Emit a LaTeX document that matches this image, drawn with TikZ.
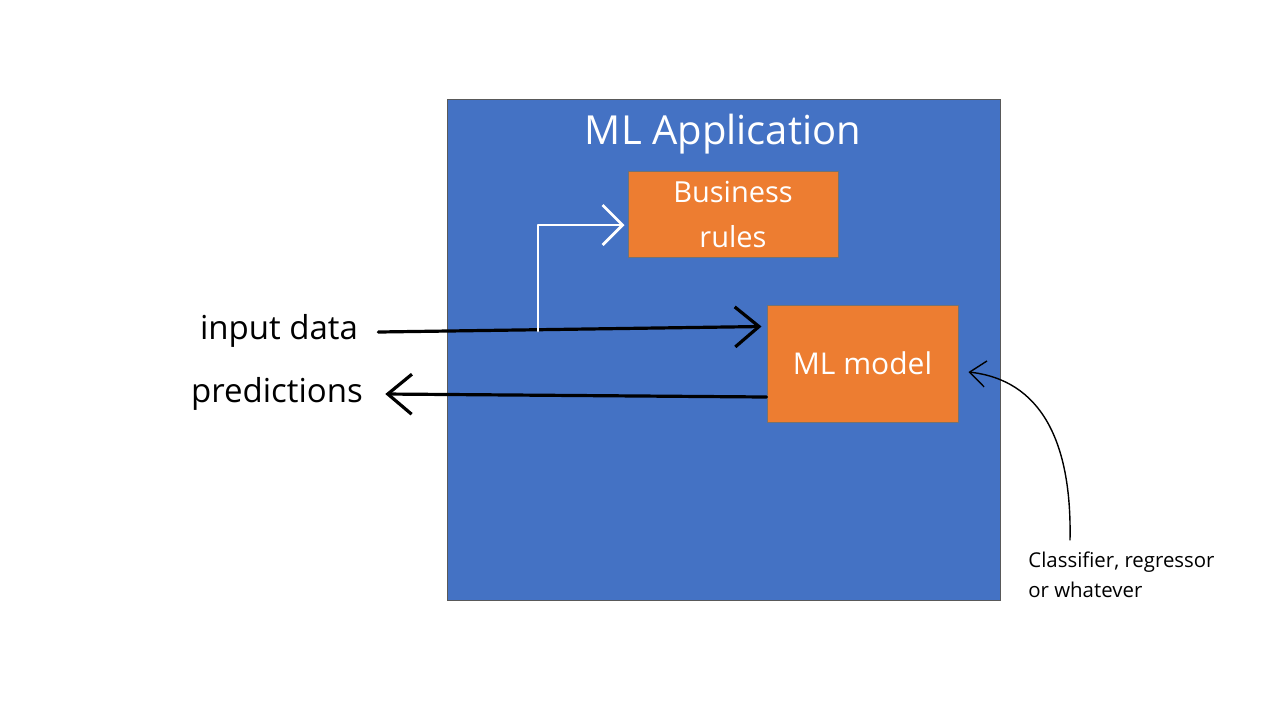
\documentclass[tikz,border=0pt]{standalone}
\usepackage{fontspec}
\setmainfont{Open Sans}
\usetikzlibrary{arrows.meta}
\definecolor{appblue}{HTML}{4472C4}
\definecolor{boxorange}{HTML}{ED7D31}
\begin{document}
\begin{tikzpicture}[x=0.5pt,y=-0.5pt,
  appbox/.style={draw=black!65, fill=appblue, line width=0.5pt, inner sep=0pt,
    minimum width=276.5pt, minimum height=250.5pt},
  orangebox/.style={draw=black!55, fill=boxorange, line width=0.5pt, inner sep=0pt,
    text=white, align=center},
  wtext/.style={text=white, inner sep=0pt},
  btext/.style={text=black, inner sep=1pt},
  bkarrow/.style={draw=black, line width=1.6pt, line cap=round,
    -{Straight Barb[length=12pt,width=20pt,line width=1.6pt]}},
  wharrow/.style={draw=white, line width=1.4pt, line cap=round, line join=round,
    -{Straight Barb[length=10pt,width=20pt,line width=1.4pt]}},
  thinarrow/.style={draw=black, line width=0.7pt, line cap=round,
    -{Straight Barb[length=8pt,width=13pt,line width=0.7pt]}}
]
\useasboundingbox (0,0) rectangle (1280,720);
\fill[white] (0,0) rectangle (1280,720);

\node[appbox] (app) at (723.5,349.5) {};
\node[wtext, font=\fontsize{20}{24}\selectfont] (title) at (723,134) {ML Application};

\node[orangebox, minimum width=105pt, minimum height=43pt,
  font=\fontsize{14.5}{22.5}\selectfont] (biz) at (733,214) {Business\\rules};
\node[orangebox, minimum width=95.5pt, minimum height=58.5pt,
  font=\fontsize{15}{18}\selectfont] (ml) at (862.5,363.5) {ML model};

\node[btext, font=\fontsize{16.5}{20}\selectfont] (inlab) at (279,331) {input data};
\node[btext, font=\fontsize{16.5}{20}\selectfont] (predlab) at (277,394) {predictions};

\node[btext, align=left, anchor=north west, font=\fontsize{10.2}{15}\selectfont] (note) at (1026,549)
  {Classifier, regressor\\or whatever};

\draw[bkarrow] ([xshift=9pt,yshift=-0.5pt]inlab.east) -- ([xshift=-2.5pt,yshift=18.5pt]ml.west);
\coordinate (branch) at (538,331);
\draw[wharrow] (branch) |- ([xshift=-1.5pt,yshift=-5.5pt]biz.west);
\draw[bkarrow] ([yshift=-16.75pt]ml.west) -- ([xshift=10pt]predlab.east);

\coordinate (notetop) at (1070,540);
\draw[thinarrow] (notetop) .. controls (1072,440) and (1040,380) .. ([xshift=5pt,yshift=-4.25pt]ml.east);
\end{tikzpicture}
\end{document}
